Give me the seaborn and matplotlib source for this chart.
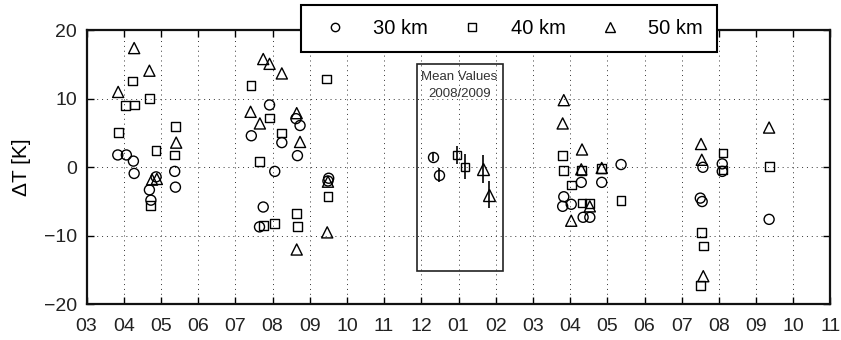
import matplotlib
matplotlib.use("Agg")
import matplotlib.pyplot as plt
import seaborn as sns
import pandas as pd
from matplotlib.lines import Line2D
from matplotlib.patches import Rectangle

# month index: 0 = 03 (first year) ... 20 = 11 (second year)
tick_labels = ["03", "04", "05", "06", "07", "08", "09", "10", "11", "12", "01",
               "02", "03", "04", "05", "06", "07", "08", "09", "10", "11"]

x30 = [0.84, 1.07, 1.26, 1.28, 1.69, 1.73, 1.87, 2.37, 2.39, 4.43, 4.65, 4.75, 4.92,
       5.06, 5.25, 5.63, 5.67, 5.74, 6.51, 6.49, 12.83, 12.80, 13.03, 13.30, 13.35,
       13.53, 13.85, 14.37, 16.57, 16.50, 16.55, 17.09, 17.09, 18.35]
y30 = [1.8, 1.8, 0.9, -0.9, -3.3, -4.8, -1.4, -0.6, -2.9, 4.6, -8.7, -5.8, 9.1,
       -0.6, 3.6, 7.1, 1.7, 6.1, -1.6, -2.0, -4.3, -5.7, -5.4, -2.2, -7.3,
       -7.3, -2.2, 0.4, 0.0, -4.5, -5.0, 0.5, -0.6, -7.6]

x40 = [0.85, 1.05, 1.28, 1.24, 1.69, 1.87, 1.73, 2.39, 2.37, 4.42, 4.65, 4.92, 4.75,
       5.06, 5.25, 5.65, 5.67, 6.46, 6.49, 12.80, 12.83, 13.03, 13.32, 13.53, 13.85,
       13.30, 14.37, 16.54, 16.58, 16.51, 17.11, 17.11, 18.35]
y40 = [5.1, 9.0, 9.1, 12.6, 10.0, 2.5, -5.6, 5.9, 1.8, 11.9, 0.8, 7.2, -8.5,
       -8.2, 5.0, -6.7, -8.7, 12.9, -4.3, 1.7, -0.5, -2.6, -5.2, -5.3, -0.15,
       -0.5, -4.8, -9.5, -11.5, -17.3, 2.1, -0.4, 0.1]

x50 = [0.85, 1.28, 1.69, 1.76, 1.89, 2.41, 4.41, 4.66, 4.75, 4.92, 5.25, 5.65, 5.74,
       5.65, 6.49, 6.47, 12.83, 12.80, 13.32, 13.30, 13.53, 13.03, 13.85, 16.52,
       16.54, 16.58, 18.35]
y50 = [11.0, 17.4, 14.1, -1.8, -1.7, 3.6, 8.1, 6.4, 15.8, 15.1, 13.7, 7.9, 3.7,
       -12.0, -2.1, -9.5, 9.8, 6.4, 2.6, -0.3, -5.7, -7.8, -0.1, 3.4,
       1.1, -15.9, 5.8]

mean_x = [9.31, 9.48, 9.97, 10.17, 10.67, 10.83]
mean_y = [1.55, -1.1, 1.8, 0.1, -0.25, -4.0]
mean_err = [0.7, 1.0, 1.3, 1.8, 2.05, 2.0]
mean_markers = ["o", "o", "s", "s", "^", "^"]

series_names = ["30 km", "40 km", "50 km"]
series_markers = ["o", "s", "^"]
series_sizes = [52, 40, 64]

plt.rcParams["font.family"] = ["Liberation Sans", "DejaVu Sans"]

fig = plt.figure(figsize=(8.41, 3.40), dpi=100)
ax = fig.add_axes([0.1029, 0.105, 0.8846, 0.806])

data = [(x30, y30), (x40, y40), (x50, y50)]
for (xs, ys), name, mk, sz in zip(data, series_names, series_markers, series_sizes):
    df = pd.DataFrame({"x": xs, "y": ys})
    sns.scatterplot(data=df, x="x", y="y", marker=mk, s=sz, facecolor="none",
                    edgecolor="black", linewidth=1.0, ax=ax, zorder=3, legend=False)

for mx, my, me, mk, sz in zip(mean_x, mean_y, mean_err, mean_markers,
                              [7.2, 7.2, 6.3, 6.3, 8, 8]):
    ax.errorbar(mx, my, yerr=me, fmt=mk, ms=sz, mfc="none", mec="black", mew=1.0,
                ecolor="black", elinewidth=1.2, capsize=0, zorder=3)

ax.add_patch(Rectangle((8.88, -15.1), 11.19 - 8.88, 30.2, fill=False,
                       edgecolor="#222222", linewidth=1.2, zorder=2))
ax.text(10.02, 13.2, "Mean Values", ha="center", va="center", fontsize=9.5, color="#333333")
ax.text(10.02, 10.7, "2008/2009", ha="center", va="center", fontsize=9.5, color="#333333")

ax.set_xlim(0, 20)
ax.set_ylim(-20, 20)
ax.set_xticks(range(21))
ax.set_xticklabels(tick_labels)
ax.set_yticks([-20, -10, 0, 10, 20])
ax.set_yticklabels(["\u221220", "\u221210", "0", "10", "20"])
ax.tick_params(direction="in", length=5, width=1.0, labelsize=14, top=True, right=True,
               colors="black", labelcolor="#222222")
ax.tick_params(axis="x", pad=10)
ax.tick_params(axis="y", pad=7)
ax.grid(True, linestyle=(0, (1, 4)), color="#333333", linewidth=0.7)
ax.set_axisbelow(True)
for sp in ax.spines.values():
    sp.set_linewidth(1.6)
    sp.set_color("#111111")
ax.set_xlabel("")
ax.set_ylabel("\u0394T [K]", fontsize=15, labelpad=9)

handles = [Line2D([], [], linestyle="none", marker=m, ms=s, mfc="none", mec="black", mew=1.0)
           for m, s in zip(series_markers, [6, 5.5, 6.5])]
leg = fig.legend(handles, series_names, loc="center", bbox_to_anchor=(0.605, 0.915),
                 ncol=3, fontsize=14.5, frameon=True, fancybox=False, framealpha=1,
                 edgecolor="black", handlelength=2.0, handletextpad=0.9,
                 columnspacing=1.2, borderpad=0.7)
leg.get_frame().set_linewidth(1.5)

fig.savefig("out.png", dpi=100)
